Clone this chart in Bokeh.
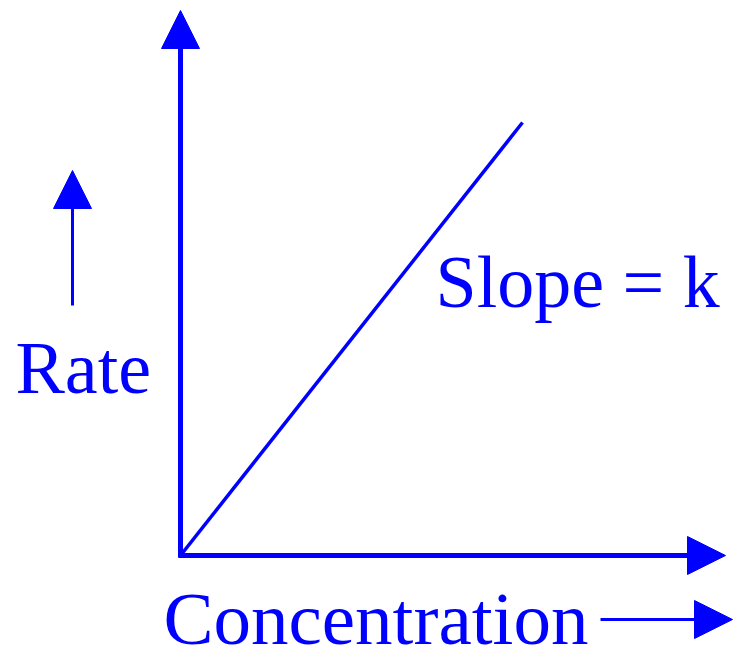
from bokeh.plotting import figure
from bokeh.models import Range1d, Arrow, NormalHead, Label
from bokeh.embed import file_html
from bokeh.resources import INLINE

# ---- data (chart units, origin at the corner of the axes) ----
line_conc = [0, 342]          # concentration values of the straight line
line_rate = [0, 433]          # rate values of the straight line
axis_conc_end = 545           # end of concentration axis
axis_rate_end = 545           # end of rate axis
rate_arrow_x = [-108, -108]   # small "Rate" arrow
rate_arrow_y = [250, 385]
conc_arrow_x = [420, 552]     # small "Concentration" arrow
conc_arrow_y = [-64, -64]
slope_text = "Slope = k"
x_label_text = "Concentration"
y_label_text = "Rate"

BLUE = "#0000FF"
FONT = "Liberation Serif"

p = figure(width=733, height=646, output_backend="svg", toolbar_location=None,
           x_range=Range1d(-180, 553), y_range=Range1d(-91, 555),
           min_border=0, min_border_left=0, min_border_right=0,
           min_border_top=0, min_border_bottom=0)
p.xaxis.visible = False
p.yaxis.visible = False
p.grid.visible = False
p.outline_line_color = None
p.background_fill_color = "white"
p.border_fill_color = "white"

# axes with arrow heads
p.add_layout(Arrow(end=NormalHead(size=38, fill_color=BLUE, line_color=BLUE, line_width=1),
                   x_start=0, y_start=-2, x_end=0, y_end=axis_rate_end,
                   line_color=BLUE, line_width=5))
p.add_layout(Arrow(end=NormalHead(size=38, fill_color=BLUE, line_color=BLUE, line_width=1),
                   x_start=-2, y_start=0, x_end=axis_conc_end, y_end=0,
                   line_color=BLUE, line_width=5))

# the straight line
p.line(line_conc, line_rate, line_color=BLUE, line_width=3.5)

# small label arrows
p.add_layout(Arrow(end=NormalHead(size=38, fill_color=BLUE, line_color=BLUE, line_width=1),
                   x_start=rate_arrow_x[0], y_start=rate_arrow_y[0],
                   x_end=rate_arrow_x[1], y_end=rate_arrow_y[1],
                   line_color=BLUE, line_width=3))
p.add_layout(Arrow(end=NormalHead(size=38, fill_color=BLUE, line_color=BLUE, line_width=1),
                   x_start=conc_arrow_x[0], y_start=conc_arrow_y[0],
                   x_end=conc_arrow_x[1], y_end=conc_arrow_y[1],
                   line_color=BLUE, line_width=3))

# texts
p.add_layout(Label(x=255, y=274, text=slope_text, text_font=FONT, text_font_size="74px",
                   text_color=BLUE, text_baseline="alphabetic", text_align="left"))
p.add_layout(Label(x=-165, y=188, text=y_label_text, text_font=FONT, text_font_size="74px",
                   text_color=BLUE, text_baseline="alphabetic", text_align="left"))
p.add_layout(Label(x=-17, y=-63, text=x_label_text, text_font=FONT, text_font_size="75px",
                   text_color=BLUE, text_baseline="alphabetic", text_align="left"))

open("out.html", "w").write(file_html(p, INLINE))
